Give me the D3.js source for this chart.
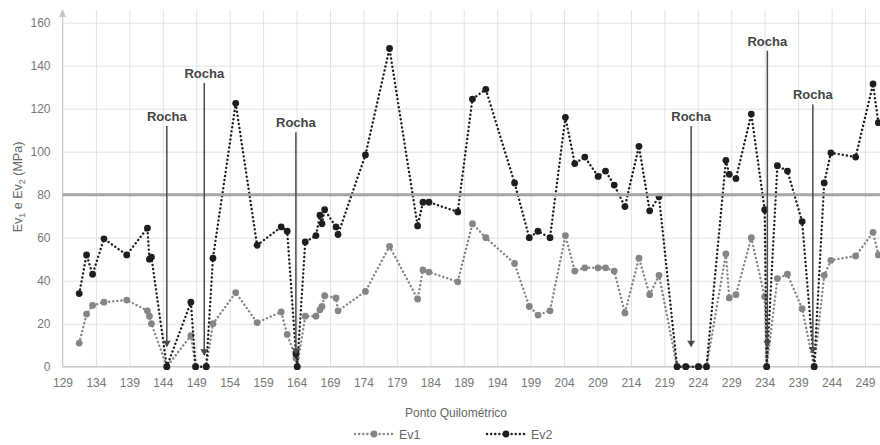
<!DOCTYPE html>
<html>
<head>
<meta charset="utf-8">
<script src="https://cdnjs.cloudflare.com/ajax/libs/d3/7.8.5/d3.min.js"></script>
<style>
  html, body { margin: 0; padding: 0; background: #fff; }
  #chart { width: 880px; height: 445px; overflow: hidden; }
  text { font-family: "Liberation Sans", Arial, sans-serif; }
</style>
</head>
<body>
<div id="chart"></div>
<script>
// ponto quilometrico of each test
var km = [131.5, 132.6, 133.5, 135.2, 138.6, 141.7, 142.0, 142.3, 144.6, 148.2,
  148.9, 150.5, 151.5, 154.9, 158.1, 161.7, 162.6, 163.9, 164.1, 165.3,
  166.9, 167.5, 167.8, 168.2, 169.9, 170.2, 174.3, 177.9, 182.1, 182.9,
  183.8, 188.1, 190.3, 192.3, 196.6, 198.8, 200.1, 201.9, 204.2, 205.6,
  207.1, 209.1, 210.2, 211.5, 213.1, 215.2, 216.8, 218.2, 220.9, 222.2,
  224.1, 225.3, 228.2, 228.7, 229.7, 232.0, 234.0, 234.3, 235.9, 237.4,
  239.6, 241.4, 242.9, 243.9, 247.6, 250.2, 251.0];

var ev1 = [11, 24.5, 28.5, 30, 31, 26, 23.5, 20, 0, 14.5,
  0, 0, 20, 34.5, 20.5, 25.5, 15, 4, 0, 23.5,
  23.5, 26.5, 28, 33, 32, 26, 35, 56, 31.5, 45,
  44, 39.5, 66.5, 60, 48, 28, 24, 26, 61, 44.5,
  46, 46, 46, 44.5, 25, 50.5, 33.5, 42.5, 0, 0,
  0, 0, 52.5, 32, 33.5, 60, 32.5, 0, 41, 43,
  27, 0, 42.5, 49.5, 51.5, 62.5, 52];

var ev2 = [34, 52, 43, 59.5, 52, 64.5, 50, 51, 0, 30,
  0, 0, 50.5, 122.5, 56.5, 65, 63, 6, 0, 58,
  61, 70.5, 66.5, 73, 65, 61.5, 98.5, 148, 65.5, 76.5,
  76.5, 72, 124.5, 129, 85.5, 60, 63, 60, 116, 94.5,
  97.5, 88.5, 91, 84.5, 74.5, 102.5, 72.5, 79, 0, 0,
  0, 0, 96, 89.5, 87.5, 117.5, 73, 0, 93.5, 91,
  67.5, 0, 85.5, 99.5, 97.5, 131.5, 113.5];

var xTicks = d3.range(129, 250, 5);
var yTicks = [0, 20, 40, 60, 80, 100, 120, 140, 160];
var limite = 80;

// "Rocha" arrows
var rochaKm = [144.6, 150.2, 163.9, 223.0, 234.4, 241.2];
var rochaTop = [112, 132, 109, 112, 147, 122];
var rochaBottom = [9.5, 5.5, 6, 9.5, 9.5, 6.5];

var width = 880,
  height = 445;

var x = d3.scaleLinear().domain([129, 249]).range([62.5, 865]);
var y = d3.scaleLinear().domain([0, 160]).range([366.7, 22.7]);

var svg = d3.select('#chart')
  .append('svg')
  .attr('width', width)
  .attr('height', height);

var defs = svg.append('defs');
defs.append('marker')
  .attr('id', 'seta')
  .attr('viewBox', '0 0 10 10')
  .attr('refX', 5)
  .attr('refY', 9)
  .attr('markerWidth', 8)
  .attr('markerHeight', 8)
  .attr('markerUnits', 'userSpaceOnUse')
  .attr('orient', '0')
  .append('path')
  .attr('d', 'M0,2 L10,2 L5,10 Z')
  .attr('fill', '#4a4a4a');

// grid + tick labels
var xAxis = d3.axisBottom(x)
  .tickValues(xTicks)
  .tickFormat(d3.format('d'))
  .tickSize(-(y(0) - 10))
  .tickPadding(12);

var gx = svg.append('g')
  .attr('transform', 'translate(0,' + y(0) + ')')
  .call(xAxis);
gx.select('.domain').remove();
gx.selectAll('line').attr('stroke', '#e3e3e3');
gx.selectAll('text').attr('fill', '#777').attr('font-size', 12);

var yAxis = d3.axisLeft(y)
  .tickValues(yTicks)
  .tickSize(-(width - x(129)))
  .tickPadding(12);

var gy = svg.append('g')
  .attr('transform', 'translate(' + x(129) + ',0)')
  .call(yAxis);
gy.select('.domain').remove();
gy.selectAll('line').attr('stroke', '#e3e3e3');
gy.selectAll('text').attr('fill', '#777').attr('font-size', 12);

// axis lines
svg.append('line')
  .attr('x1', x(129)).attr('x2', width)
  .attr('y1', y(0)).attr('y2', y(0))
  .attr('stroke', '#bdbdbd');
svg.append('line')
  .attr('x1', x(129)).attr('x2', x(129))
  .attr('y1', y(0)).attr('y2', 14)
  .attr('stroke', '#c8c8c8');
svg.append('path')
  .attr('d', 'M' + (x(129) - 3.5) + ',17 L' + (x(129) + 3.5) + ',17 L' + x(129) + ',9 Z')
  .attr('fill', '#c8c8c8');

// series
var line = d3.line()
  .x(function(d) { return x(d[0]); })
  .y(function(d) { return y(d[1]); });

var series = [
  { name: 'Ev1', values: ev1, color: '#858585' },
  { name: 'Ev2', values: ev2, color: '#1e1e1e' }
];

series.forEach(function(s) {
  var pts = km.map(function(k, i) { return [k, s.values[i]]; });
  svg.append('path')
    .datum(pts)
    .attr('fill', 'none')
    .attr('stroke', s.color)
    .attr('stroke-width', 2.4)
    .attr('stroke-linecap', 'round')
    .attr('stroke-dasharray', '0.1 4')
    .attr('d', line);
  svg.append('g').selectAll('circle')
    .data(pts)
    .enter().append('circle')
    .attr('cx', function(d) { return x(d[0]); })
    .attr('cy', function(d) { return y(d[1]); })
    .attr('r', 3.4)
    .attr('fill', s.color);
});

// limit line
svg.append('line')
  .attr('x1', x(129)).attr('x2', width)
  .attr('y1', y(limite)).attr('y2', y(limite))
  .attr('stroke', '#a5a5a5')
  .attr('stroke-width', 3);

// Rocha arrows
rochaKm.forEach(function(k, i) {
  svg.append('line')
    .attr('x1', x(k)).attr('x2', x(k))
    .attr('y1', y(rochaTop[i])).attr('y2', y(rochaBottom[i]))
    .attr('stroke', '#4a4a4a')
    .attr('stroke-width', 1.5)
    .attr('marker-end', 'url(#seta)');
  svg.append('text')
    .attr('x', x(k))
    .attr('y', y(rochaTop[i]) - 5)
    .attr('text-anchor', 'middle')
    .attr('font-family', 'Lato, "Open Sans", sans-serif')
    .attr('font-weight', 'bold')
    .attr('font-size', 13)
    .attr('fill', '#444')
    .text('Rocha');
});

// axis titles
svg.append('text')
  .attr('x', 456)
  .attr('y', 417)
  .attr('text-anchor', 'middle')
  .attr('font-size', 12)
  .attr('fill', '#666')
  .text('Ponto Quilométrico');

var yt = svg.append('text')
  .attr('transform', 'translate(22,187) rotate(-90)')
  .attr('text-anchor', 'middle')
  .attr('font-size', 12.5)
  .attr('fill', '#666');
yt.append('tspan').text('Ev');
yt.append('tspan').attr('font-size', 9).attr('dy', 3).text('1');
yt.append('tspan').attr('dy', -3).text(' e Ev');
yt.append('tspan').attr('font-size', 9).attr('dy', 3).text('2');
yt.append('tspan').attr('dy', -3).text(' (MPa)');

// legend
var legX = [355, 487];
series.forEach(function(s, i) {
  var g = svg.append('g').attr('transform', 'translate(' + legX[i] + ',434)');
  g.append('line')
    .attr('x1', 0).attr('x2', 38)
    .attr('stroke', s.color)
    .attr('stroke-width', 2.4)
    .attr('stroke-linecap', 'round')
    .attr('stroke-dasharray', '0.1 4');
  g.append('circle').attr('cx', 19).attr('r', 3.4).attr('fill', s.color);
  g.append('text')
    .attr('x', 44)
    .attr('y', 4.5)
    .attr('font-size', 12.5)
    .attr('fill', '#666')
    .text(s.name);
});
</script>
</body>
</html>
